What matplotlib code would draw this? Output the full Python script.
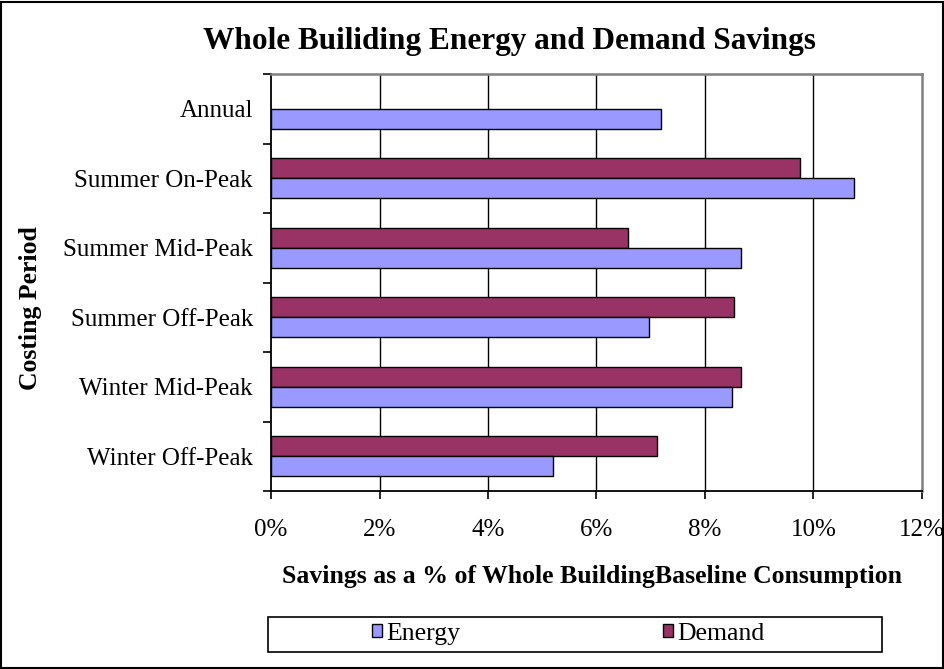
import numpy as np
import matplotlib
matplotlib.use("Agg")
import matplotlib.pyplot as plt
from matplotlib.patches import Rectangle

categories = ["Annual", "Summer On-Peak", "Summer Mid-Peak", "Summer Off-Peak",
              "Winter Mid-Peak", "Winter Off-Peak"]
energy = [7.18, 10.74, 8.67, 6.97, 8.50, 5.20]
demand = [np.nan, 9.76, 6.58, 8.53, 8.67, 7.12]
xticks = [0, 2, 4, 6, 8, 10, 12]
xticklabels = ["0%", "2%", "4%", "6%", "8%", "10%", "12%"]

plt.rcParams['font.family'] = ['Liberation Serif', 'DejaVu Serif']

W, H = 945, 669
fig = plt.figure(figsize=(W / 100, H / 100), dpi=100)
fig.patch.set_facecolor('white')

L, R, T, B = 271, 922, 74, 491
ax = fig.add_axes([L / W, 1 - B / H, (R - L) / W, (B - T) / H])

y = np.arange(len(categories))
bh = 0.29
ax.barh(y - bh / 2, demand, height=bh, color='#993366', edgecolor='black',
        linewidth=1.0, label='Demand', zorder=3)
ax.barh(y + bh / 2, energy, height=bh, color='#9999FF', edgecolor='black',
        linewidth=1.0, label='Energy', zorder=3)

ax.set_xlim(0, 12)
ax.set_ylim(len(categories) - 0.5, -0.5)

ax.set_xticks(xticks)
ax.set_xticklabels(xticklabels, fontsize=18)
ax.tick_params(axis='x', direction='out', length=6, width=1.2, pad=14, colors='black')

ax.set_yticks(np.arange(-0.5, len(categories), 1.0))
ax.set_yticklabels([])
ax.tick_params(axis='y', which='major', direction='out', length=6, width=1.2)
ax.set_yticks(y, minor=True)
ax.set_yticklabels(categories, minor=True, fontsize=18)
ax.tick_params(axis='y', which='minor', length=0, pad=13)

for xv in xticks[1:-1]:
    ax.axvline(xv, color='black', linewidth=1.0, zorder=1)

ax.spines['left'].set_color('black')
ax.spines['bottom'].set_color('black')
ax.spines['left'].set_linewidth(1.3)
ax.spines['bottom'].set_linewidth(1.3)
ax.spines['top'].set_color('#808080')
ax.spines['right'].set_color('#808080')
ax.spines['top'].set_linewidth(1.8)
ax.spines['right'].set_linewidth(1.8)

fig.text(509 / W, 1 - 42 / H, "Whole Builiding Energy and Demand Savings",
         ha='center', va='center', fontsize=22.5, fontweight='bold')
fig.text(592 / W, 1 - 576 / H, "Savings as a % of Whole BuildingBaseline Consumption",
         ha='center', va='center', fontsize=18.5, fontweight='bold')
fig.text(31 / W, 1 - 308 / H, "Costing Period", rotation=90,
         ha='center', va='center', fontsize=18.5, fontweight='bold')

handles, labels = ax.get_legend_handles_labels()
order = [labels.index('Energy'), labels.index('Demand')]
fig.legend([handles[i] for i in order], [labels[i] for i in order],
           loc='center', bbox_to_anchor=(568 / W, 1 - 634 / H), ncol=2,
           frameon=False, fontsize=18.5, columnspacing=7.9,
           handlelength=0.4, handleheight=0.4, handletextpad=0.15,
           borderpad=0, borderaxespad=0)
fig.add_artist(Rectangle((268 / W, 1 - 652 / H), (882 - 268) / W, (652 - 617) / H,
                         transform=fig.transFigure, fill=False,
                         edgecolor='black', linewidth=1.2))

fig.add_artist(Rectangle((1 / W, 1 / H), (W - 2.5) / W, (H - 2.5) / H,
                         transform=fig.transFigure, fill=False,
                         edgecolor='black', linewidth=1.5))

fig.savefig("out.png", dpi=100, facecolor='white')
